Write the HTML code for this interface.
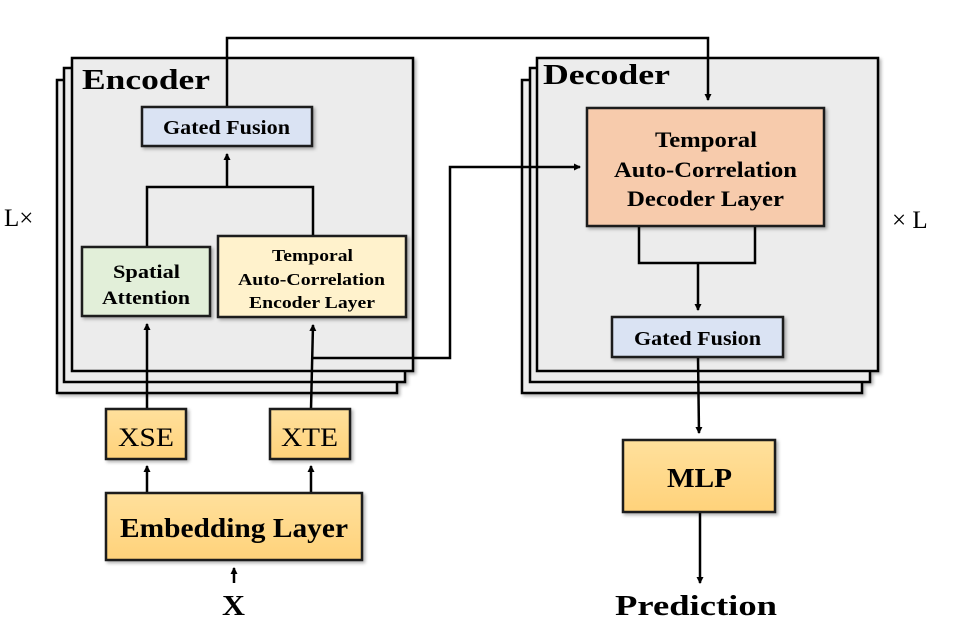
<!DOCTYPE html>
<html><head><style>
html,body{margin:0;padding:0;background:#fff;}
svg text{font-family:"Liberation Serif",serif;}
</style></head><body>
<svg width="954" height="636" viewBox="0 0 954 636" xmlns="http://www.w3.org/2000/svg">
<defs>
<linearGradient id="og" x1="0" y1="0" x2="0" y2="1"><stop offset="0" stop-color="#ffe09c"/><stop offset="1" stop-color="#ffd27a"/></linearGradient>
<marker id="a" markerWidth="8" markerHeight="8" refX="6" refY="4" orient="auto" markerUnits="userSpaceOnUse"><path d="M0,0.5 L7,4 L0,7.5 Z" fill="#000"/></marker>
<filter id="sh" x="-5%" y="-5%" width="115%" height="115%"><feDropShadow dx="2" dy="2" stdDeviation="1.5" flood-color="#000" flood-opacity="0.3"/></filter>
</defs>
<g stroke="#000" stroke-width="2.5" fill="#ececec" filter="url(#sh)">
<rect x="57" y="80" width="340" height="313"/>
<rect x="64" y="68" width="341" height="314"/>
<rect x="72" y="58" width="341" height="313"/>
<rect x="522" y="80" width="340" height="313"/>
<rect x="530" y="68" width="340" height="314"/>
<rect x="537" y="58" width="341" height="313"/>
</g>
<g lengthAdjust="spacingAndGlyphs">
<text x="82" y="89" font-size="29" font-weight="bold" textLength="128" lengthAdjust="spacingAndGlyphs">Encoder</text>
<text x="543" y="84" font-size="29" font-weight="bold" textLength="127" lengthAdjust="spacingAndGlyphs">Decoder</text>
</g>
<text x="4" y="226" font-size="25">L×</text>
<text x="892" y="228" font-size="25">× L</text>
<g fill="none" stroke="#000" stroke-width="2.5">
<polyline points="227,107 227,38 708,38 708,100" marker-end="url(#a)"/>
<polyline points="147,247 147,187 313,187 313,236"/>
<line x1="227" y1="187" x2="227" y2="154" marker-end="url(#a)"/>
<line x1="147" y1="409" x2="147" y2="324" marker-end="url(#a)"/>
<line x1="311" y1="409" x2="313" y2="325" marker-end="url(#a)"/>
<polyline points="313,358 450,358 450,167 580,167" marker-end="url(#a)"/>
<polyline points="639,226 639,263 755,263 755,226"/>
<line x1="698" y1="263" x2="698" y2="310" marker-end="url(#a)"/>
<line x1="698" y1="357" x2="699" y2="433" marker-end="url(#a)"/>
<line x1="700" y1="512" x2="700" y2="583" marker-end="url(#a)"/>
<line x1="147" y1="493" x2="147" y2="466" marker-end="url(#a)"/>
<line x1="311" y1="493" x2="311" y2="466" marker-end="url(#a)"/>
<line x1="234" y1="583" x2="234" y2="568" marker-end="url(#a)"/>
</g>
<g stroke="#1a1a1a" stroke-width="2.5" filter="url(#sh)">
<rect x="142" y="107" width="170" height="39" fill="#dae3f3"/>
<rect x="82" y="247" width="128" height="69" fill="#e2efd9"/>
<rect x="218" y="236" width="188" height="81" fill="#fff2cc"/>
<rect x="587" y="108" width="237" height="118" fill="#f7cbac"/>
<rect x="612" y="317" width="171" height="40" fill="#dae3f3"/>
<rect x="106" y="409" width="80" height="50" fill="url(#og)"/>
<rect x="270" y="409" width="80" height="50" fill="url(#og)"/>
<rect x="106" y="493" width="256" height="67" fill="url(#og)"/>
<rect x="623" y="440" width="152" height="72" fill="url(#og)"/>
</g>
<g font-weight="bold">
<text x="163" y="134" font-size="20" textLength="127" lengthAdjust="spacingAndGlyphs">Gated Fusion</text>
<text x="113" y="278" font-size="19" textLength="67" lengthAdjust="spacingAndGlyphs">Spatial</text>
<text x="102" y="304" font-size="19" textLength="88" lengthAdjust="spacingAndGlyphs">Attention</text>
<text x="272" y="261" font-size="16.5" textLength="81" lengthAdjust="spacingAndGlyphs">Temporal</text>
<text x="238" y="285" font-size="16.5" textLength="147" lengthAdjust="spacingAndGlyphs">Auto-Correlation</text>
<text x="249" y="308" font-size="16.5" textLength="126" lengthAdjust="spacingAndGlyphs">Encoder Layer</text>
<text x="655" y="147" font-size="22" textLength="102" lengthAdjust="spacingAndGlyphs">Temporal</text>
<text x="614" y="177" font-size="22" textLength="183" lengthAdjust="spacingAndGlyphs">Auto-Correlation</text>
<text x="627" y="206" font-size="22" textLength="157" lengthAdjust="spacingAndGlyphs">Decoder Layer</text>
<text x="634" y="345" font-size="20" textLength="127" lengthAdjust="spacingAndGlyphs">Gated Fusion</text>
<text x="120" y="537" font-size="27" textLength="228" lengthAdjust="spacingAndGlyphs">Embedding Layer</text>
<text x="667" y="487" font-size="27" textLength="65" lengthAdjust="spacingAndGlyphs">MLP</text>
<text x="222" y="615" font-size="28" textLength="23" lengthAdjust="spacingAndGlyphs">X</text>
<text x="615" y="615" font-size="28" textLength="162" lengthAdjust="spacingAndGlyphs">Prediction</text>
</g>
<g font-size="26">
<text x="118" y="446" textLength="56" lengthAdjust="spacingAndGlyphs">XSE</text>
<text x="281" y="446" textLength="57" lengthAdjust="spacingAndGlyphs">XTE</text>
</g>
</svg>
</body></html>
